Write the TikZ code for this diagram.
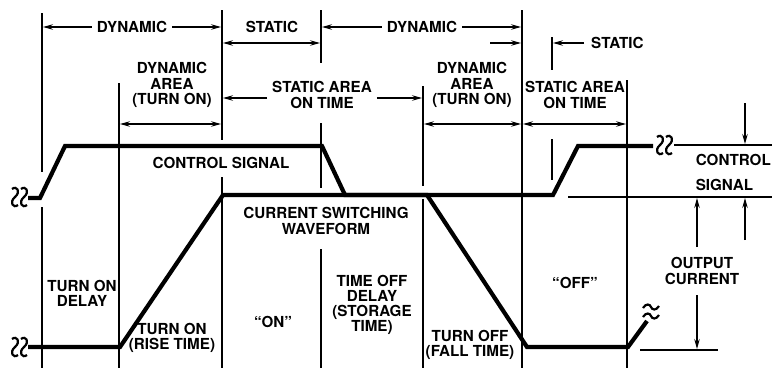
\documentclass[tikz,border=0pt]{standalone}
\usepackage{fontspec}
\setmainfont{TeX Gyre Heros}
\usetikzlibrary{arrows.meta}
\tikzset{
  vl/.style={line width=1.2pt},
  wave/.style={line width=4.2pt, line join=miter},
  lbl/.style={font=\bfseries\fontsize{15.2}{15.2}\selectfont, align=center, inner sep=1pt},
  tip/.tip={Stealth[length=10pt,width=5.5pt,inset=3.5pt]},
  arr/.style={line width=1.2pt, -tip},
  darr/.style={line width=1.2pt, tip-tip},
  squigl/.style={line width=2.2pt},
}
\begin{document}
\begin{tikzpicture}[x=1pt,y=-1pt]
\useasboundingbox (0,0) rectangle (772,368);
% vertical guide lines
\draw[vl] (42,13)--(42,172) (42,207)--(42,368);
\draw[vl] (119,83)--(119,368);
\draw[vl] (222,10)--(222,140) (222,177)--(222,368);
\draw[vl] (321,10)--(321,63) (321,123)--(321,188) (321,249)--(321,368);
\draw[vl] (423,86)--(423,186) (423,199)--(423,368);
\draw[vl] (522,10)--(522,368);
\draw[vl] (552,37)--(552,70) (552,139)--(552,180);
\draw[vl] (627,80)--(627,368);

% top row
\node[lbl] (dyn1) at (132,27) {DYNAMIC};
\draw[arr] (dyn1.west) ++(-4,0) -- (43,27);
\draw[arr] (dyn1.east) ++(4,0) -- (221,27);
\node[lbl] (sta1) at (272,27) {STATIC};
\draw[darr] (223,43) -- (320,43);
\node[lbl] (dyn2) at (422,27) {DYNAMIC};
\draw[arr] (dyn2.west) ++(-4,0) -- (322,27);
\draw[arr] (dyn2.east) ++(4,0) -- (521,27);
\draw[arr] (490,43) -- (521,43);
\node[lbl, anchor=west] (sta2) at (590,43) {STATIC};
\draw[arr] (584,43) -- (553,43);

% second row
\node[lbl] (da1) at (172,85) {DYNAMIC\\AREA\\(TURN ON)};
\draw[darr] (120,124) -- (221,124);
\node[lbl] (sa1) at (322,95) {STATIC AREA\\ON TIME};
\draw[arr] (sa1.west) ++(-4,3) -- (223,98);
\draw[arr] (sa1.east) ++(4,3) -- (422,98);
\node[lbl] (da2) at (472,85) {DYNAMIC\\AREA\\(TURN ON)};
\draw[darr] (424,124) -- (521,124);
\node[lbl] (sa2) at (575,95) {STATIC AREA\\ON TIME};
\draw[darr] (523,124) -- (626,124);

% waveforms
\draw[wave] (28,198)--(40,198)--(65,146)--(322,146)--(345,195)--(553,195)--(578,146)--(653,146);
\draw[wave] (28,347)--(120,347)--(223,195)--(427,195)--(527,347)--(628,347)--(647,321);

% squiggles
\foreach \x/\y in {15/197,24/197,15/347,24/347,660/145,669/145}{
  \draw[squigl] (\x-3,\y-8) .. controls (\x+2,\y-12) and (\x+6,\y-5) .. (\x,\y)
     .. controls (\x-6,\y+5) and (\x-2,\y+12) .. (\x+3,\y+8);
}
\foreach \y in {307,316}{
  \draw[squigl] (643,\y+1) .. controls (646,\y-4) and (650,\y-3) .. (651,\y)
     .. controls (652,\y+3) and (656,\y+4) .. (659,\y-1);
}

% middle labels
\node[lbl] (cs) at (221,163) {CONTROL SIGNAL};
\node[lbl] (csw) at (326,221) {CURRENT SWITCHING\\WAVEFORM};

% right side
\draw[vl] (674,145)--(772,145);
\draw[vl] (568,197)--(772,197);
\draw[vl] (640,350)--(718,350);
\draw[arr] (745,103) -- (745,144);
\draw[arr] (745,240) -- (745,198);
\node[lbl, anchor=east] (ctl) at (772,160) {CONTROL};
\node[lbl, anchor=west] (sig) at (ctl.west |- 0,185) {SIGNAL};
\node[lbl] (oc) at (702,271) {OUTPUT\\CURRENT};
\draw[arr] (697,247) -- (697,198);
\draw[arr] (697,295) -- (697,349);

% bottom labels
\node[lbl] (tod) at (82,293) {TURN ON\\DELAY};
\node[lbl] (tor) at (172,338) {TURN ON\\(RISE TIME)};
\node[lbl] (on) at (273,322) {“ON”};
\node[lbl] (tofd) at (372,305) {TIME OFF\\DELAY\\(STORAGE\\TIME)};
\node[lbl] (tof) at (470,345) {TURN OFF\\(FALL TIME)};
\node[lbl] (off) at (575,283) {“OFF”};
\end{tikzpicture}
\end{document}
